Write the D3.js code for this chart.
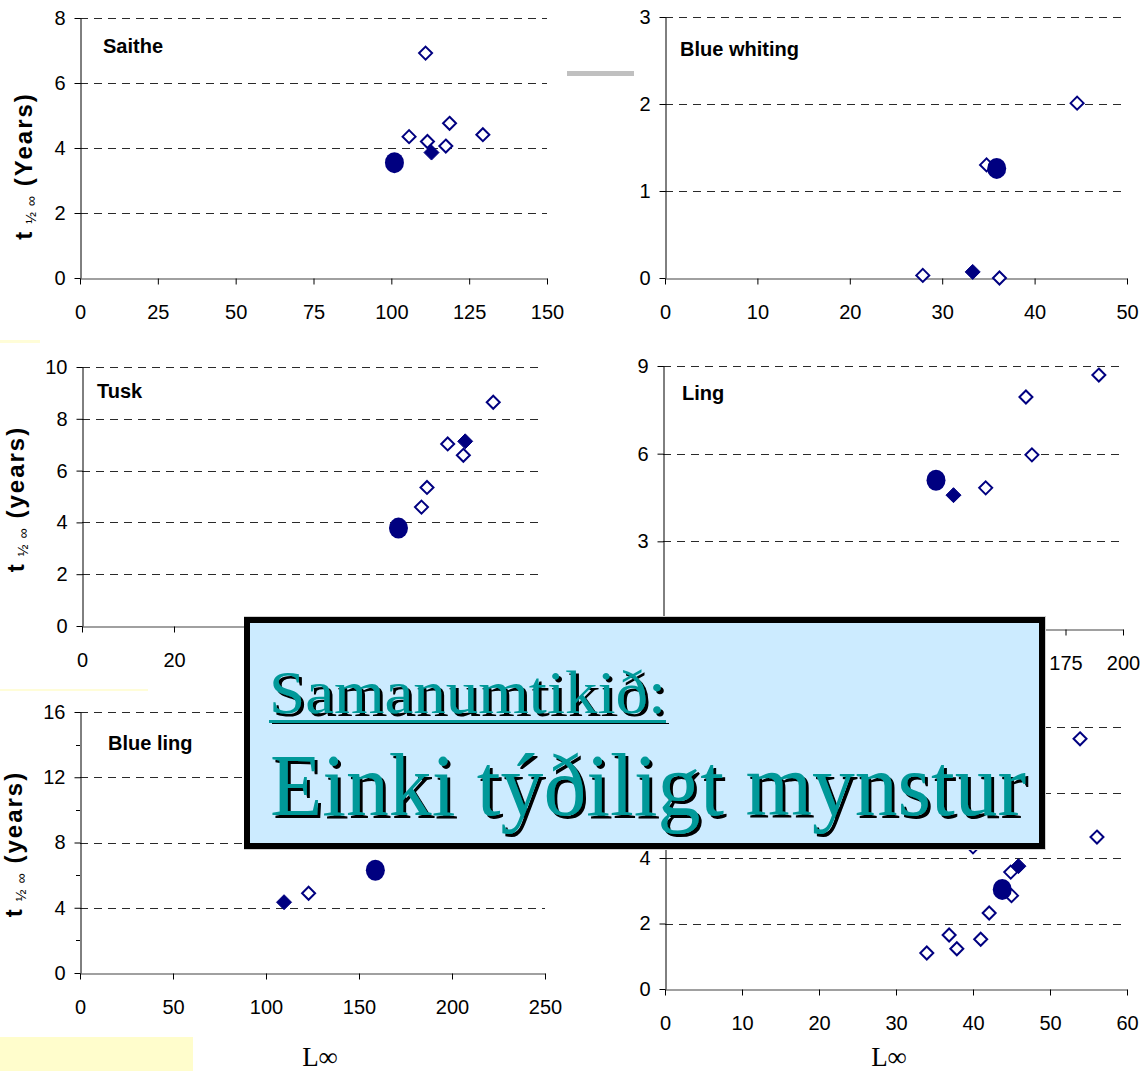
<!DOCTYPE html>
<html>
<head>
<meta charset="utf-8">
<script src="https://cdn.jsdelivr.net/npm/d3@7"></script>
<style>
  html, body { margin: 0; padding: 0; background: #ffffff; }
  svg { display: block; }
</style>
</head>
<body>
<svg id="chart" width="1144" height="1071"></svg>
<script>
// ---------------- DATA ----------------
// Saithe
const saitheOpenX   = [111.0, 105.7, 111.6, 118.7, 117.5, 129.4];
const saitheOpenY   = [6.92, 4.35, 4.20, 4.76, 4.06, 4.41];
const saitheFilledX = [112.9];
const saitheFilledY = [3.86];
const saitheCircleX = [101.0];
const saitheCircleY = [3.55];
const saitheXTicks  = [0, 25, 50, 75, 100, 125, 150];
const saitheYTicks  = [0, 2, 4, 6, 8];

// Blue whiting
const bwOpenX   = [44.6, 34.8, 27.9, 36.2];
const bwOpenY   = [2.01, 1.30, 0.03, 0.0];
const bwFilledX = [33.3];
const bwFilledY = [0.07];
const bwCircleX = [35.9];
const bwCircleY = [1.26];
const bwXTicks  = [0, 10, 20, 30, 40, 50];
const bwYTicks  = [0, 1, 2, 3];

// Tusk
const tuskOpenX   = [89.4, 79.5, 82.9, 75.0, 73.8];
const tuskOpenY   = [8.64, 7.03, 6.59, 5.35, 4.59];
const tuskFilledX = [83.3];
const tuskFilledY = [7.13];
const tuskCircleX = [68.8];
const tuskCircleY = [3.78];
const tuskXTicks  = [0, 20, 40, 60, 80, 100];
const tuskYTicks  = [0, 2, 4, 6, 8, 10];

// Ling
const lingOpenX   = [189.5, 157.8, 160.4, 140.3];
const lingOpenY   = [8.69, 7.94, 5.96, 4.83];
const lingFilledX = [126.3];
const lingFilledY = [4.58];
const lingCircleX = [118.7];
const lingCircleY = [5.09];
const lingXTicks  = [0, 25, 50, 75, 100, 125, 150, 175, 200];
const lingYTicks  = [0, 3, 6, 9];

// Blue ling
const blOpenX   = [122.9];
const blOpenY   = [4.89];
const blFilledX = [109.7];
const blFilledY = [4.34];
const blCircleX = [158.8];
const blCircleY = [6.30];
const blXTicks  = [0, 50, 100, 150, 200, 250];
const blYTicks  = [0, 4, 8, 12, 16];
const blYMinor  = [2, 6, 10, 14];

// Sixth panel (bottom right, title hidden)
const p6OpenX   = [53.9, 56.1, 40.0, 44.9, 45.0, 42.1, 36.9, 37.9, 41.0, 34.0];
const p6OpenY   = [7.64, 4.64, 4.34, 3.57, 2.85, 2.32, 1.65, 1.23, 1.52, 1.10];
const p6FilledX = [45.9];
const p6FilledY = [3.75];
const p6CircleX = [43.8];
const p6CircleY = [3.04];
const p6XTicks  = [0, 10, 20, 30, 40, 50, 60];
const p6YTicks  = [0, 2, 4, 6, 8];

const titles = ["Saithe", "Blue whiting", "Tusk", "Ling", "Blue ling", ""];
const yLabelWord = ["(Years)", null, "(years)", null, "(years)", null];
const xLabelText = "L\u221E";
const boxLine1 = "Samanumtikið:";
const boxLine2 = "Einki týðiligt mynstur";

// ---------------- LAYOUT ----------------
const navy = "#000080";
const BOX = { x0: 244, y0: 616, x1: 1046, y1: 850 };
const panels = [
  { x0: 80,  x1: 547,  yT: 18,  yB: 278, xT: saitheXTicks, yT2: saitheYTicks,
    ox: saitheOpenX, oy: saitheOpenY, fx: saitheFilledX, fy: saitheFilledY, cx: saitheCircleX, cy: saitheCircleY,
    title: titles[0], tx: 103, ty: 53, ylab: yLabelWord[0], ylx: 32, yly: 166 },
  { x0: 665, x1: 1127, yT: 17,  yB: 278, xT: bwXTicks, yT2: bwYTicks,
    ox: bwOpenX, oy: bwOpenY, fx: bwFilledX, fy: bwFilledY, cx: bwCircleX, cy: bwCircleY,
    title: titles[1], tx: 680, ty: 56, ylab: null },
  { x0: 82,  x1: 542,  yT: 367, yB: 626, xT: tuskXTicks, yT2: tuskYTicks,
    ox: tuskOpenX, oy: tuskOpenY, fx: tuskFilledX, fy: tuskFilledY, cx: tuskCircleX, cy: tuskCircleY,
    title: titles[2], tx: 97, ty: 398, ylab: yLabelWord[2], ylx: 24, yly: 499 },
  { x0: 663, x1: 1123, yT: 366, yB: 629, xT: lingXTicks, yT2: lingYTicks,
    ox: lingOpenX, oy: lingOpenY, fx: lingFilledX, fy: lingFilledY, cx: lingCircleX, cy: lingCircleY,
    title: titles[3], tx: 682, ty: 400, ylab: null },
  { x0: 80,  x1: 545,  yT: 712, yB: 973, xT: blXTicks, yT2: blYTicks, minor: blYMinor,
    ox: blOpenX, oy: blOpenY, fx: blFilledX, fy: blFilledY, cx: blCircleX, cy: blCircleY,
    title: titles[4], tx: 108, ty: 750, ylab: yLabelWord[4], ylx: 22, yly: 844,
    xlab: true, xlx: 320, xly: 1066 },
  { x0: 665, x1: 1127, yT: 727, yB: 989, xT: p6XTicks, yT2: p6YTicks,
    ox: p6OpenX, oy: p6OpenY, fx: p6FilledX, fy: p6FilledY, cx: p6CircleX, cy: p6CircleY,
    title: titles[5], ylab: null, xlab: true, xlx: 889, xly: 1066 }
];

const inBox = (px, py) => px > BOX.x0 - 4 && px < BOX.x1 + 4 && py > BOX.y0 - 6 && py < BOX.y1 + 6;

const svg = d3.select("#chart");
const defs = svg.append("defs");
const flt = defs.append("filter").attr("id", "shadow").attr("x", "-5%").attr("y", "-20%").attr("width", "110%").attr("height", "140%");
flt.append("feDropShadow").attr("dx", 3).attr("dy", 3).attr("stdDeviation", 0)
  .attr("flood-color", "#000").attr("flood-opacity", 1);

svg.append("rect").attr("width", 1144).attr("height", 1071).attr("fill", "#ffffff");

// decorative bits in the background
svg.append("rect").attr("x", 0).attr("y", 340).attr("width", 40).attr("height", 3).attr("fill", "#FFFDD8");
svg.append("rect").attr("x", 0).attr("y", 689).attr("width", 148).attr("height", 2).attr("fill", "#FFFDD8");
svg.append("rect").attr("x", 0).attr("y", 1037).attr("width", 193).attr("height", 34).attr("fill", "#FFFDCC");
svg.append("rect").attr("x", 567).attr("y", 71).attr("width", 67).attr("height", 5).attr("fill", "#C0C0C0");

const diamond = s => `M0,${-s}L${s},0L0,${s}L${-s},0Z`;
const sans = "'Liberation Sans', Arial, sans-serif";

panels.forEach(p => {
  const xMax = p.xT[p.xT.length - 1];
  const yMax = p.yT2[p.yT2.length - 1];
  const x = d3.scaleLinear().domain([0, xMax]).range([p.x0, p.x1]);
  const y = d3.scaleLinear().domain([0, yMax]).range([p.yB, p.yT]);
  const g = svg.append("g");

  // gridlines
  g.selectAll("line.grid").data(p.yT2.filter(v => v > 0)).enter().append("line")
    .attr("x1", p.x0).attr("x2", p.x1)
    .attr("y1", d => Math.round(y(d)) + 0.5).attr("y2", d => Math.round(y(d)) + 0.5)
    .attr("stroke", "#2a2a2a").attr("stroke-width", 1).attr("stroke-dasharray", "8,6");

  // x axis
  const gx = g.append("g").attr("transform", `translate(0,${Math.round(p.yB) + 0.5})`)
    .call(d3.axisBottom(x).tickValues(p.xT).tickSizeInner(6).tickSizeOuter(0).tickPadding(20).tickFormat(d3.format("d")));
  gx.select(".domain").attr("stroke", "#808080").attr("stroke-width", 1.5);
  gx.selectAll(".tick line").attr("stroke", "#000");
  gx.selectAll("text").attr("font-family", sans).attr("font-size", 20).attr("fill", "#000");
  gx.selectAll(".tick").each(function(d) {
    if (inBox(x(d), p.yB + 34)) d3.select(this).select("text").remove();
  });

  // y axis
  const gy = g.append("g").attr("transform", `translate(${Math.round(p.x0) + 0.5},0)`)
    .call(d3.axisLeft(y).tickValues(p.yT2).tickSizeInner(6).tickSizeOuter(0).tickPadding(9).tickFormat(d3.format("d")));
  gy.select(".domain").attr("stroke", "#000").attr("stroke-width", 1);
  gy.selectAll(".tick line").attr("stroke", "#000");
  gy.selectAll("text").attr("font-family", sans).attr("font-size", 20).attr("fill", "#000");
  gy.selectAll(".tick").each(function(d) {
    if (inBox(p.x0 - 22, y(d))) d3.select(this).select("text").remove();
  });

  if (p.minor) {
    g.selectAll("line.minor").data(p.minor).enter().append("line")
      .attr("x1", p.x0 - 4).attr("x2", p.x0)
      .attr("y1", d => Math.round(y(d)) + 0.5).attr("y2", d => Math.round(y(d)) + 0.5)
      .attr("stroke", "#000");
  }

  // title
  if (p.title) {
    g.append("text").attr("x", p.tx).attr("y", p.ty).text(p.title)
      .attr("font-family", sans).attr("font-weight", "bold")
      .attr("font-size", 20).attr("fill", "#000");
  }

  // y label
  if (p.ylab) {
    const t = g.append("text")
      .attr("transform", `translate(${p.ylx},${p.yly}) rotate(-90)`)
      .attr("text-anchor", "middle")
      .attr("font-family", sans).attr("font-weight", "bold").attr("fill", "#000");
    t.append("tspan").attr("font-size", 24).text("t");
    t.append("tspan").attr("font-size", 14).attr("font-weight", "normal").attr("dx", 8).attr("dy", 4).text("\u00BD");
    t.append("tspan").attr("font-size", 14).attr("font-weight", "normal").attr("dx", 6).text("\u221E");
    t.append("tspan").attr("font-size", 24).attr("dx", 10).attr("dy", -4).attr("letter-spacing", 2).text(p.ylab);
  }

  // x label
  if (p.xlab) {
    g.append("text").attr("x", p.xlx).attr("y", p.xly).attr("text-anchor", "middle")
      .attr("font-family", "'Liberation Serif', 'Times New Roman', serif").attr("font-size", 27)
      .attr("fill", "#000").text(xLabelText);
  }

  // markers
  const open = p.ox.map((v, i) => [v, p.oy[i]]);
  const filled = p.fx.map((v, i) => [v, p.fy[i]]);
  const circ = p.cx.map((v, i) => [v, p.cy[i]]);
  g.selectAll("path.open").data(open).enter().append("path")
    .attr("d", diamond(6.5))
    .attr("transform", d => `translate(${x(d[0])},${y(d[1])})`)
    .attr("fill", "#fff").attr("stroke", navy).attr("stroke-width", 2);
  g.selectAll("path.filled").data(filled).enter().append("path")
    .attr("d", diamond(7.5))
    .attr("transform", d => `translate(${x(d[0])},${y(d[1])})`)
    .attr("fill", navy).attr("stroke", navy).attr("stroke-width", 1);
  g.selectAll("circle.c").data(circ).enter().append("ellipse")
    .attr("cx", d => x(d[0])).attr("cy", d => y(d[1]))
    .attr("rx", 9.5).attr("ry", 10.5).attr("fill", navy);
});

// ---------------- OVERLAY BOX ----------------
const box = svg.append("g");
box.append("rect").attr("x", BOX.x0).attr("y", BOX.y0).attr("width", BOX.x1 - BOX.x0).attr("height", BOX.y1 - BOX.y0).attr("fill", "#d0d0d0");
box.append("rect").attr("x", 247).attr("y", 620).attr("width", 795).attr("height", 226)
  .attr("fill", "#CCEBFF").attr("stroke", "#000").attr("stroke-width", 6);

const teal = "#009999";
const serif = "'Liberation Serif', 'Times New Roman', serif";
function shadowText(str, xPos, yPos, size, len) {
  box.append("text").attr("x", xPos).attr("y", yPos).text(str)
    .attr("font-family", serif).attr("font-size", size).attr("fill", teal)
    .attr("textLength", len).attr("lengthAdjust", "spacingAndGlyphs")
    .attr("filter", "url(#shadow)");
}
shadowText(boxLine1, 269, 713, 62, 397);
box.append("rect").attr("x", 269).attr("y", 720).attr("width", 397).attr("height", 3).attr("fill", teal)
  .attr("filter", "url(#shadow)");
shadowText(boxLine2, 270, 815, 88, 756);
</script>
</body>
</html>
